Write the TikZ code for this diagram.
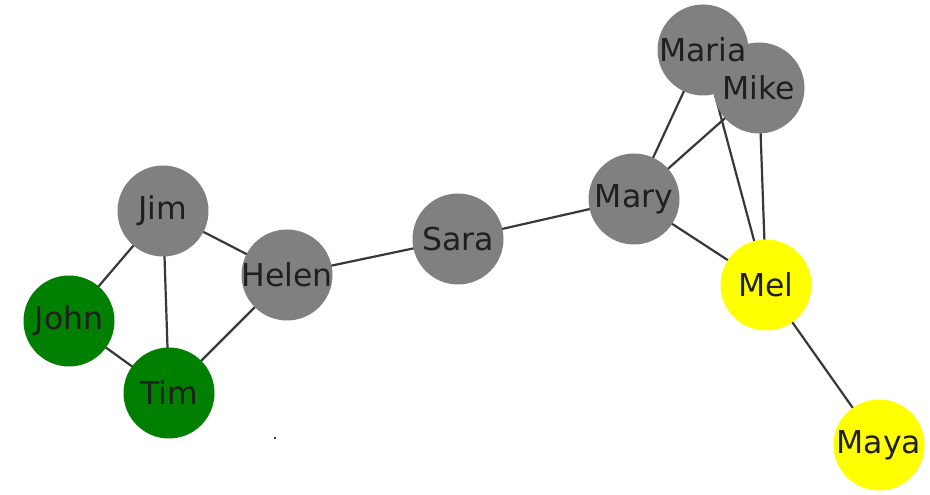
\documentclass[tikz,border=0pt]{standalone}
\usepackage{fontspec}
\setmainfont{DejaVu Sans}
\usetikzlibrary{backgrounds}
\pgfdeclarelayer{discs}
\pgfsetlayers{background,discs,main}
\definecolor{nodegray}{HTML}{808080}
\definecolor{nodegreen}{HTML}{007F00}
\definecolor{nodeyellow}{HTML}{FFFF00}
\definecolor{edgecol}{HTML}{383838}
\tikzset{
  person/.style={circle, draw=none, inner sep=0pt, minimum size=91pt,
    font=\fontsize{31.5}{32}\selectfont, text=black!88},
  link/.style={draw=edgecol, line width=2.2pt}
}
% filled disc under a named person
\newcommand\persondisc[2]{\fill[#2] (#1.center) circle[radius=45.5pt];}
\begin{document}
\begin{tikzpicture}[x=1pt,y=1pt]
\useasboundingbox (0,0) rectangle (930,495);
% people (labels on top of every disc)
\node[person] (jim)   at (163,284) {Jim};
\node[person] (john)  at (69,174)  {John};
\node[person] (tim)   at (169,102) {Tim};
\node[person] (helen) at (287,220) {Helen};
\node[person] (sara)  at (458,256) {Sara};
\node[person] (mary)  at (634,296) {Mary};
\node[person] (maria) at (703,445) {Maria};
\node[person] (mike)  at (759,407) {Mike};
\node[person] (mel)   at (766,210) {Mel};
\node[person] (maya)  at (879,50)  {Maya};
% stray mark
\fill[edgecol] (274,56) rectangle (276,58);
% discs
\begin{pgfonlayer}{discs}
\persondisc{jim}{nodegray}
\persondisc{john}{nodegreen}
\persondisc{tim}{nodegreen}
\persondisc{helen}{nodegray}
\persondisc{sara}{nodegray}
\persondisc{mary}{nodegray}
\persondisc{maria}{nodegray}
\persondisc{mike}{nodegray}
\persondisc{mel}{nodeyellow}
\persondisc{maya}{nodeyellow}
\end{pgfonlayer}
% friendships, drawn behind the discs
\begin{pgfonlayer}{background}
\draw[link] (jim.center) -- (john.center);
\draw[link] (jim.center) -- (tim.center);
\draw[link] (jim.center) -- (helen.center);
\draw[link] (john.center) -- (tim.center);
\draw[link] (tim.center) -- (helen.center);
\draw[link] (helen.center) -- (sara.center);
\draw[link] (sara.center) -- (mary.center);
\draw[link] (mary.center) -- (maria.center);
\draw[link] (mary.center) -- (mike.center);
\draw[link] (mary.center) -- (mel.center);
\draw[link] (maria.center) -- (mike.center);
\draw[link] (maria.center) -- (mel.center);
\draw[link] (mike.center) -- (mel.center);
\draw[link] (mel.center) -- (maya.center);
\end{pgfonlayer}
\end{tikzpicture}
\end{document}
